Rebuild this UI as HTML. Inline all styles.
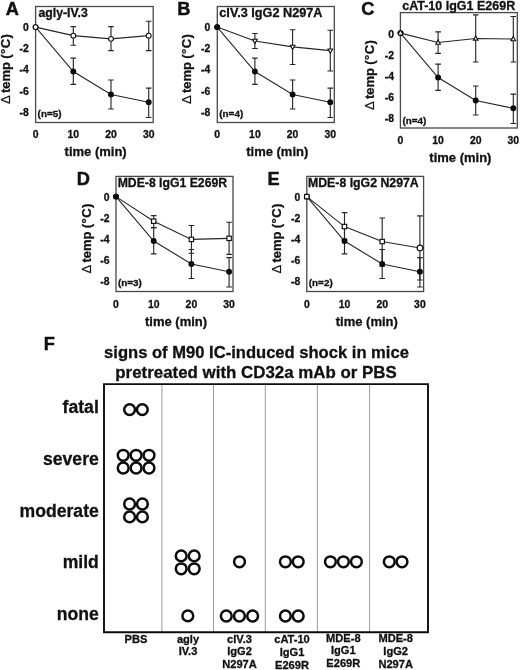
<!DOCTYPE html>
<html lang="en"><head><meta charset="utf-8"><title>Figure</title>
<style>
html,body{margin:0;padding:0;background:#fff;}
body{width:520px;height:670px;overflow:hidden;}
svg{display:block;}
text{font-family:"Liberation Sans", sans-serif;fill:#111;}
.b{font-weight:bold;stroke:#111;stroke-width:.3px;}
.L{stroke-width:.45px;}
.D{font-weight:normal;stroke-width:.2px;}
</style></head><body>
<svg width="520" height="670" viewBox="0 0 520 670">
<rect width="520" height="670" fill="#fff"/>
<g>
<text x="5.8" y="15.0" font-size="18.2" class="b L">A</text>
<rect x="35.6" y="6.5" width="117.6" height="116.0" fill="none" stroke="#484848" stroke-width="1.3"/>
<text x="38.5" y="16.6" font-size="12.3" class="b" text-anchor="start" textLength="49.3" lengthAdjust="spacingAndGlyphs">agly-IV.3</text>
<text x="37.6" y="117.2" font-size="9.9" class="b">(n=5)</text>
<text x="28.8" y="31.05" font-size="10.4" class="b" text-anchor="end">0</text>
<text x="28.8" y="52.25" font-size="10.4" class="b" text-anchor="end">-2</text>
<text x="28.8" y="73.45" font-size="10.4" class="b" text-anchor="end">-4</text>
<text x="28.8" y="94.65" font-size="10.4" class="b" text-anchor="end">-6</text>
<text x="28.8" y="115.85" font-size="10.4" class="b" text-anchor="end">-8</text>
<text x="35.60" y="138" font-size="10.4" class="b" text-anchor="middle">0</text>
<text x="73.30" y="138" font-size="10.4" class="b" text-anchor="middle">10</text>
<text x="111.00" y="138" font-size="10.4" class="b" text-anchor="middle">20</text>
<text x="148.70" y="138" font-size="10.4" class="b" text-anchor="middle">30</text>
<text x="95.65" y="155.5" font-size="13" class="b" text-anchor="middle">time (min)</text>
<text transform="translate(10.4,104.00) rotate(-90)" font-size="13" class="b"><tspan class="D" x="0">Δ</tspan><tspan x="11">temp</tspan><tspan x="45.3" letter-spacing="0.45">(°C)</tspan></text>
<path d="M73.30 58.13V84.34M70.50 58.13h5.6M70.50 84.34h5.6" stroke="#262626" stroke-width="1.12" fill="none"/>
<path d="M111.00 80.06V108.96M108.20 80.06h5.6M108.20 108.96h5.6" stroke="#262626" stroke-width="1.12" fill="none"/>
<path d="M148.70 88.09V117.51M145.90 88.09h5.6M145.90 117.51h5.6" stroke="#262626" stroke-width="1.12" fill="none"/>
<path d="M73.30 26.57V45.29M70.50 26.57h5.6M70.50 45.29h5.6" stroke="#262626" stroke-width="1.12" fill="none"/>
<path d="M111.00 26.57V50.64M108.20 26.57h5.6M108.20 50.64h5.6" stroke="#262626" stroke-width="1.12" fill="none"/>
<path d="M148.70 21.22V50.64M145.90 21.22h5.6M145.90 50.64h5.6" stroke="#262626" stroke-width="1.12" fill="none"/>
<path d="M35.60 27.10L73.30 71.50L111.00 94.51L148.70 102.32" stroke="#262626" stroke-width="1.1" fill="none"/>
<path d="M35.60 27.10L73.30 35.66L111.00 38.87L148.70 35.66" stroke="#262626" stroke-width="1.1" fill="none"/>
<circle cx="35.60" cy="27.10" r="2.95" fill="#0a0a0a"/>
<circle cx="73.30" cy="71.50" r="2.95" fill="#0a0a0a"/>
<circle cx="111.00" cy="94.51" r="2.95" fill="#0a0a0a"/>
<circle cx="148.70" cy="102.32" r="2.95" fill="#0a0a0a"/>
<circle cx="35.60" cy="27.10" r="2.4" fill="#fff" stroke="#111" stroke-width="1.1"/>
<circle cx="73.30" cy="35.66" r="2.4" fill="#fff" stroke="#111" stroke-width="1.1"/>
<circle cx="111.00" cy="38.87" r="2.4" fill="#fff" stroke="#111" stroke-width="1.1"/>
<circle cx="148.70" cy="35.66" r="2.4" fill="#fff" stroke="#111" stroke-width="1.1"/>
</g>
<g>
<text x="177.3" y="14.9" font-size="18.2" class="b L">B</text>
<rect x="217.3" y="6.5" width="117.0" height="116.0" fill="none" stroke="#484848" stroke-width="1.3"/>
<text x="219.3" y="16.6" font-size="12.3" class="b" text-anchor="start" textLength="103.2" lengthAdjust="spacingAndGlyphs">cIV.3 IgG2 N297A</text>
<text x="219.3" y="117.2" font-size="9.9" class="b">(n=4)</text>
<text x="210.3" y="31.05" font-size="10.4" class="b" text-anchor="end">0</text>
<text x="210.3" y="52.25" font-size="10.4" class="b" text-anchor="end">-2</text>
<text x="210.3" y="73.45" font-size="10.4" class="b" text-anchor="end">-4</text>
<text x="210.3" y="94.65" font-size="10.4" class="b" text-anchor="end">-6</text>
<text x="210.3" y="115.85" font-size="10.4" class="b" text-anchor="end">-8</text>
<text x="217.20" y="138" font-size="10.4" class="b" text-anchor="middle">0</text>
<text x="254.90" y="138" font-size="10.4" class="b" text-anchor="middle">10</text>
<text x="292.60" y="138" font-size="10.4" class="b" text-anchor="middle">20</text>
<text x="330.30" y="138" font-size="10.4" class="b" text-anchor="middle">30</text>
<text x="277.25" y="155.5" font-size="13" class="b" text-anchor="middle">time (min)</text>
<text transform="translate(190.6,104.00) rotate(-90)" font-size="13" class="b"><tspan class="D" x="0">Δ</tspan><tspan x="11">temp</tspan><tspan x="45.3" letter-spacing="0.45">(°C)</tspan></text>
<path d="M254.90 58.13V84.34M252.10 58.13h5.6M252.10 84.34h5.6" stroke="#262626" stroke-width="1.12" fill="none"/>
<path d="M292.60 80.06V108.96M289.80 80.06h5.6M289.80 108.96h5.6" stroke="#262626" stroke-width="1.12" fill="none"/>
<path d="M330.30 88.09V117.51M327.50 88.09h5.6M327.50 117.51h5.6" stroke="#262626" stroke-width="1.12" fill="none"/>
<path d="M254.90 33.52V48.50M252.10 33.52h5.6M252.10 48.50h5.6" stroke="#262626" stroke-width="1.12" fill="none"/>
<path d="M292.60 29.78V64.55M289.80 29.78h5.6M289.80 64.55h5.6" stroke="#262626" stroke-width="1.12" fill="none"/>
<path d="M330.30 30.31V70.97M327.50 30.31h5.6M327.50 70.97h5.6" stroke="#262626" stroke-width="1.12" fill="none"/>
<path d="M217.20 27.10L254.90 71.50L292.60 94.51L330.30 102.32" stroke="#262626" stroke-width="1.1" fill="none"/>
<path d="M217.20 27.10L254.90 41.01L292.60 46.89L330.30 50.64" stroke="#262626" stroke-width="1.1" fill="none"/>
<circle cx="217.20" cy="27.10" r="2.95" fill="#0a0a0a"/>
<circle cx="254.90" cy="71.50" r="2.95" fill="#0a0a0a"/>
<circle cx="292.60" cy="94.51" r="2.95" fill="#0a0a0a"/>
<circle cx="330.30" cy="102.32" r="2.95" fill="#0a0a0a"/>
<circle cx="217.20" cy="27.10" r="2.95" fill="#0a0a0a"/>
<path d="M254.90 43.51L257.20 39.31H252.60Z" fill="#fff" stroke="#111" stroke-width="1.1"/>
<path d="M292.60 49.39L294.90 45.19H290.30Z" fill="#fff" stroke="#111" stroke-width="1.1"/>
<path d="M330.30 53.14L332.60 48.94H328.00Z" fill="#fff" stroke="#111" stroke-width="1.1"/>
</g>
<g>
<text x="361.2" y="15.1" font-size="18.2" class="b L">C</text>
<rect x="400.4" y="12.6" width="116.89999999999998" height="115.4" fill="none" stroke="#484848" stroke-width="1.3"/>
<text x="402.2" y="9.7" font-size="12.3" class="b" text-anchor="start" textLength="113" lengthAdjust="spacingAndGlyphs">cAT-10 IgG1 E269R</text>
<text x="402.4" y="124.1" font-size="9.9" class="b">(n=4)</text>
<text x="394.0" y="37.55" font-size="10.4" class="b" text-anchor="end">0</text>
<text x="394.0" y="58.75" font-size="10.4" class="b" text-anchor="end">-2</text>
<text x="394.0" y="79.95" font-size="10.4" class="b" text-anchor="end">-4</text>
<text x="394.0" y="101.15" font-size="10.4" class="b" text-anchor="end">-6</text>
<text x="394.0" y="122.35" font-size="10.4" class="b" text-anchor="end">-8</text>
<text x="400.50" y="144.1" font-size="10.4" class="b" text-anchor="middle">0</text>
<text x="438.10" y="144.1" font-size="10.4" class="b" text-anchor="middle">10</text>
<text x="475.70" y="144.1" font-size="10.4" class="b" text-anchor="middle">20</text>
<text x="513.30" y="144.1" font-size="10.4" class="b" text-anchor="middle">30</text>
<text x="460.40" y="161.8" font-size="13" class="b" text-anchor="middle">time (min)</text>
<text transform="translate(373.5,110.00) rotate(-90)" font-size="13" class="b"><tspan class="D" x="0">Δ</tspan><tspan x="11">temp</tspan><tspan x="45.3" letter-spacing="0.45">(°C)</tspan></text>
<path d="M438.10 64.13V90.34M435.30 64.13h5.6M435.30 90.34h5.6" stroke="#262626" stroke-width="1.12" fill="none"/>
<path d="M475.70 86.06V114.96M472.90 86.06h5.6M472.90 114.96h5.6" stroke="#262626" stroke-width="1.12" fill="none"/>
<path d="M513.30 94.09V123.51M510.50 94.09h5.6M510.50 123.51h5.6" stroke="#262626" stroke-width="1.12" fill="none"/>
<path d="M438.10 31.82V53.43M435.30 31.82h5.6M435.30 53.43h5.6" stroke="#262626" stroke-width="1.12" fill="none"/>
<path d="M475.70 14.91V61.99M472.90 14.91h5.6M472.90 61.99h5.6" stroke="#262626" stroke-width="1.12" fill="none"/>
<path d="M513.30 16.52V61.99M510.50 16.52h5.6M510.50 61.99h5.6" stroke="#262626" stroke-width="1.12" fill="none"/>
<path d="M400.50 33.10L438.10 77.50L475.70 100.51L513.30 108.32" stroke="#262626" stroke-width="1.1" fill="none"/>
<path d="M400.50 33.10L438.10 42.52L475.70 38.45L513.30 38.98" stroke="#262626" stroke-width="1.1" fill="none"/>
<circle cx="400.50" cy="33.10" r="2.95" fill="#0a0a0a"/>
<circle cx="438.10" cy="77.50" r="2.95" fill="#0a0a0a"/>
<circle cx="475.70" cy="100.51" r="2.95" fill="#0a0a0a"/>
<circle cx="513.30" cy="108.32" r="2.95" fill="#0a0a0a"/>
<circle cx="400.50" cy="33.10" r="2.9" fill="#0a0a0a"/>
<path d="M400.50 31.10L402.40 34.60H398.60Z" fill="#fff"/>
<path d="M438.10 40.02L440.40 44.22H435.80Z" fill="#fff" stroke="#111" stroke-width="1.1"/>
<path d="M475.70 35.95L478.00 40.15H473.40Z" fill="#fff" stroke="#111" stroke-width="1.1"/>
<path d="M513.30 36.48L515.60 40.69H511.00Z" fill="#fff" stroke="#111" stroke-width="1.1"/>
</g>
<g>
<text x="76.65" y="184.7" font-size="18.2" class="b L">D</text>
<rect x="116" y="176.4" width="117.0" height="115.1" fill="none" stroke="#484848" stroke-width="1.3"/>
<text x="117.7" y="187" font-size="12.3" class="b" text-anchor="start" textLength="109.4" lengthAdjust="spacingAndGlyphs">MDE-8 IgG1 E269R</text>
<text x="118.0" y="286.4" font-size="9.9" class="b">(n=3)</text>
<text x="109.6" y="200.55" font-size="10.4" class="b" text-anchor="end">0</text>
<text x="109.6" y="221.75" font-size="10.4" class="b" text-anchor="end">-2</text>
<text x="109.6" y="242.95" font-size="10.4" class="b" text-anchor="end">-4</text>
<text x="109.6" y="264.15" font-size="10.4" class="b" text-anchor="end">-6</text>
<text x="109.6" y="285.35" font-size="10.4" class="b" text-anchor="end">-8</text>
<text x="116.00" y="308" font-size="10.4" class="b" text-anchor="middle">0</text>
<text x="153.70" y="308" font-size="10.4" class="b" text-anchor="middle">10</text>
<text x="191.40" y="308" font-size="10.4" class="b" text-anchor="middle">20</text>
<text x="229.10" y="308" font-size="10.4" class="b" text-anchor="middle">30</text>
<text x="176.05" y="325.5" font-size="13" class="b" text-anchor="middle">time (min)</text>
<text transform="translate(90.5,273.50) rotate(-90)" font-size="13" class="b"><tspan class="D" x="0">Δ</tspan><tspan x="11">temp</tspan><tspan x="45.3" letter-spacing="0.45">(°C)</tspan></text>
<path d="M153.70 227.63V253.84M150.90 227.63h5.6M150.90 253.84h5.6" stroke="#262626" stroke-width="1.12" fill="none"/>
<path d="M191.40 249.56V278.45M188.60 249.56h5.6M188.60 278.45h5.6" stroke="#262626" stroke-width="1.12" fill="none"/>
<path d="M229.10 257.59V287.01M226.30 257.59h5.6M226.30 287.01h5.6" stroke="#262626" stroke-width="1.12" fill="none"/>
<path d="M153.70 215.65V227.63M150.90 215.65h5.6M150.90 227.63h5.6" stroke="#262626" stroke-width="1.12" fill="none"/>
<path d="M191.40 225.49V253.31M188.60 225.49h5.6M188.60 253.31h5.6" stroke="#262626" stroke-width="1.12" fill="none"/>
<path d="M229.10 222.28V254.38M226.30 222.28h5.6M226.30 254.38h5.6" stroke="#262626" stroke-width="1.12" fill="none"/>
<path d="M116.00 196.60L153.70 241.00L191.40 264.01L229.10 271.82" stroke="#262626" stroke-width="1.1" fill="none"/>
<path d="M116.00 196.60L153.70 221.21L191.40 239.40L229.10 238.33" stroke="#262626" stroke-width="1.1" fill="none"/>
<circle cx="116.00" cy="196.60" r="2.95" fill="#0a0a0a"/>
<circle cx="153.70" cy="241.00" r="2.95" fill="#0a0a0a"/>
<circle cx="191.40" cy="264.01" r="2.95" fill="#0a0a0a"/>
<circle cx="229.10" cy="271.82" r="2.95" fill="#0a0a0a"/>
<circle cx="116.00" cy="196.60" r="2.95" fill="#0a0a0a"/>
<rect x="151.50" y="219.01" width="4.4" height="4.4" fill="#fff" stroke="#111" stroke-width="1.15"/>
<rect x="189.20" y="237.20" width="4.4" height="4.4" fill="#fff" stroke="#111" stroke-width="1.15"/>
<rect x="226.90" y="236.13" width="4.4" height="4.4" fill="#fff" stroke="#111" stroke-width="1.15"/>
</g>
<g>
<text x="267.5" y="184.8" font-size="18.2" class="b L">E</text>
<rect x="306.8" y="176.4" width="116.80000000000001" height="115.1" fill="none" stroke="#484848" stroke-width="1.3"/>
<text x="308" y="187" font-size="12.3" class="b" text-anchor="start" textLength="110.7" lengthAdjust="spacingAndGlyphs">MDE-8 IgG2 N297A</text>
<text x="308.8" y="286.4" font-size="9.9" class="b">(n=2)</text>
<text x="300.2" y="200.55" font-size="10.4" class="b" text-anchor="end">0</text>
<text x="300.2" y="221.75" font-size="10.4" class="b" text-anchor="end">-2</text>
<text x="300.2" y="242.95" font-size="10.4" class="b" text-anchor="end">-4</text>
<text x="300.2" y="264.15" font-size="10.4" class="b" text-anchor="end">-6</text>
<text x="300.2" y="285.35" font-size="10.4" class="b" text-anchor="end">-8</text>
<text x="306.80" y="308" font-size="10.4" class="b" text-anchor="middle">0</text>
<text x="344.50" y="308" font-size="10.4" class="b" text-anchor="middle">10</text>
<text x="382.20" y="308" font-size="10.4" class="b" text-anchor="middle">20</text>
<text x="419.90" y="308" font-size="10.4" class="b" text-anchor="middle">30</text>
<text x="366.85" y="325.5" font-size="13" class="b" text-anchor="middle">time (min)</text>
<text transform="translate(281.1,273.50) rotate(-90)" font-size="13" class="b"><tspan class="D" x="0">Δ</tspan><tspan x="11">temp</tspan><tspan x="45.3" letter-spacing="0.45">(°C)</tspan></text>
<path d="M344.50 227.63V253.84M341.70 227.63h5.6M341.70 253.84h5.6" stroke="#262626" stroke-width="1.12" fill="none"/>
<path d="M382.20 249.56V278.45M379.40 249.56h5.6M379.40 278.45h5.6" stroke="#262626" stroke-width="1.12" fill="none"/>
<path d="M419.90 257.59V287.01M417.10 257.59h5.6M417.10 287.01h5.6" stroke="#262626" stroke-width="1.12" fill="none"/>
<path d="M344.50 212.65V239.40M341.70 212.65h5.6M341.70 239.40h5.6" stroke="#262626" stroke-width="1.12" fill="none"/>
<path d="M382.20 218.00V266.15M379.40 218.00h5.6M379.40 266.15h5.6" stroke="#262626" stroke-width="1.12" fill="none"/>
<path d="M419.90 215.86V280.06M417.10 215.86h5.6M417.10 280.06h5.6" stroke="#262626" stroke-width="1.12" fill="none"/>
<path d="M306.80 196.60L344.50 241.00L382.20 264.01L419.90 271.82" stroke="#262626" stroke-width="1.1" fill="none"/>
<path d="M306.80 196.60L344.50 226.56L382.20 241.54L419.90 247.96" stroke="#262626" stroke-width="1.1" fill="none"/>
<circle cx="306.80" cy="196.60" r="2.95" fill="#0a0a0a"/>
<circle cx="344.50" cy="241.00" r="2.95" fill="#0a0a0a"/>
<circle cx="382.20" cy="264.01" r="2.95" fill="#0a0a0a"/>
<circle cx="419.90" cy="271.82" r="2.95" fill="#0a0a0a"/>
<rect x="304.60" y="194.40" width="4.4" height="4.4" fill="#fff" stroke="#111" stroke-width="1.15"/>
<rect x="342.30" y="224.36" width="4.4" height="4.4" fill="#fff" stroke="#111" stroke-width="1.15"/>
<rect x="380.00" y="239.34" width="4.4" height="4.4" fill="#fff" stroke="#111" stroke-width="1.15"/>
<circle cx="419.90" cy="247.96" r="2.8" fill="#fff" stroke="#111" stroke-width="1.1"/>
</g>
<g>
<text x="43.8" y="349.9" font-size="18.2" class="b L">F</text>
<text x="104.1" y="358.4" font-size="16.7" class="b" textLength="304.8" lengthAdjust="spacingAndGlyphs">signs of M90 IC-induced shock in mice</text>
<text x="115.3" y="377.6" font-size="16.7" class="b" textLength="281.5" lengthAdjust="spacingAndGlyphs">pretreated with CD32a mAb or PBS</text>
<line x1="161.9" y1="384.1" x2="161.9" y2="632.2" stroke="#9a9a9a" stroke-width="1"/>
<line x1="213.5" y1="384.1" x2="213.5" y2="632.2" stroke="#9a9a9a" stroke-width="1"/>
<line x1="265.3" y1="384.1" x2="265.3" y2="632.2" stroke="#9a9a9a" stroke-width="1"/>
<line x1="317.4" y1="384.1" x2="317.4" y2="632.2" stroke="#9a9a9a" stroke-width="1"/>
<line x1="369.6" y1="384.1" x2="369.6" y2="632.2" stroke="#9a9a9a" stroke-width="1"/>
<path d="M104 384.1H428V632.2H104Z" fill="none" stroke="#0c0c0c" stroke-width="1.9"/>
<text x="98.8" y="413.3" font-size="17.6" class="b" text-anchor="end">fatal</text>
<text x="98.8" y="464.6" font-size="17.6" class="b" text-anchor="end">severe</text>
<text x="98.8" y="516.7" font-size="17.6" class="b" text-anchor="end">moderate</text>
<text x="98.8" y="568.0" font-size="17.6" class="b" text-anchor="end">mild</text>
<text x="98.8" y="619.9" font-size="17.6" class="b" text-anchor="end">none</text>
<circle cx="129.6" cy="409.6" r="5.4" fill="#fff" stroke="#0c0c0c" stroke-width="2.5"/>
<circle cx="142.3" cy="409.6" r="5.4" fill="#fff" stroke="#0c0c0c" stroke-width="2.5"/>
<circle cx="123.2" cy="455.3" r="5.4" fill="#fff" stroke="#0c0c0c" stroke-width="2.5"/>
<circle cx="136.1" cy="455.3" r="5.4" fill="#fff" stroke="#0c0c0c" stroke-width="2.5"/>
<circle cx="149.0" cy="455.3" r="5.4" fill="#fff" stroke="#0c0c0c" stroke-width="2.5"/>
<circle cx="123.2" cy="468.0" r="5.4" fill="#fff" stroke="#0c0c0c" stroke-width="2.5"/>
<circle cx="136.1" cy="468.0" r="5.4" fill="#fff" stroke="#0c0c0c" stroke-width="2.5"/>
<circle cx="149.0" cy="468.0" r="5.4" fill="#fff" stroke="#0c0c0c" stroke-width="2.5"/>
<circle cx="129.6" cy="504.0" r="5.4" fill="#fff" stroke="#0c0c0c" stroke-width="2.5"/>
<circle cx="142.4" cy="504.0" r="5.4" fill="#fff" stroke="#0c0c0c" stroke-width="2.5"/>
<circle cx="129.6" cy="516.9" r="5.4" fill="#fff" stroke="#0c0c0c" stroke-width="2.5"/>
<circle cx="142.4" cy="516.9" r="5.4" fill="#fff" stroke="#0c0c0c" stroke-width="2.5"/>
<circle cx="181.2" cy="555.9" r="5.4" fill="#fff" stroke="#0c0c0c" stroke-width="2.5"/>
<circle cx="194.2" cy="555.9" r="5.4" fill="#fff" stroke="#0c0c0c" stroke-width="2.5"/>
<circle cx="181.2" cy="568.8" r="5.4" fill="#fff" stroke="#0c0c0c" stroke-width="2.5"/>
<circle cx="194.2" cy="568.8" r="5.4" fill="#fff" stroke="#0c0c0c" stroke-width="2.5"/>
<circle cx="187.8" cy="615.9" r="5.4" fill="#fff" stroke="#0c0c0c" stroke-width="2.5"/>
<circle cx="239.5" cy="561.8" r="5.4" fill="#fff" stroke="#0c0c0c" stroke-width="2.5"/>
<circle cx="226.3" cy="616.0" r="5.4" fill="#fff" stroke="#0c0c0c" stroke-width="2.5"/>
<circle cx="239.4" cy="616.0" r="5.4" fill="#fff" stroke="#0c0c0c" stroke-width="2.5"/>
<circle cx="252.6" cy="616.0" r="5.4" fill="#fff" stroke="#0c0c0c" stroke-width="2.5"/>
<circle cx="285.4" cy="561.8" r="5.4" fill="#fff" stroke="#0c0c0c" stroke-width="2.5"/>
<circle cx="285.4" cy="616.0" r="5.4" fill="#fff" stroke="#0c0c0c" stroke-width="2.5"/>
<circle cx="298.2" cy="561.8" r="5.4" fill="#fff" stroke="#0c0c0c" stroke-width="2.5"/>
<circle cx="298.2" cy="616.0" r="5.4" fill="#fff" stroke="#0c0c0c" stroke-width="2.5"/>
<circle cx="330.4" cy="561.8" r="5.4" fill="#fff" stroke="#0c0c0c" stroke-width="2.5"/>
<circle cx="343.4" cy="561.8" r="5.4" fill="#fff" stroke="#0c0c0c" stroke-width="2.5"/>
<circle cx="356.4" cy="561.8" r="5.4" fill="#fff" stroke="#0c0c0c" stroke-width="2.5"/>
<circle cx="389.3" cy="561.8" r="5.4" fill="#fff" stroke="#0c0c0c" stroke-width="2.5"/>
<circle cx="402.0" cy="561.8" r="5.4" fill="#fff" stroke="#0c0c0c" stroke-width="2.5"/>
<text x="136" y="642.50" font-size="11.1" class="b" text-anchor="middle">PBS</text>
<text x="188" y="642.50" font-size="11.1" class="b" text-anchor="middle">agly</text>
<text x="188" y="655.00" font-size="11.1" class="b" text-anchor="middle">IV.3</text>
<text x="239.5" y="642.50" font-size="11.1" class="b" text-anchor="middle">cIV.3</text>
<text x="239.5" y="655.40" font-size="11.1" class="b" text-anchor="middle">IgG2</text>
<text x="239.5" y="668.30" font-size="11.1" class="b" text-anchor="middle">N297A</text>
<text x="292" y="642.70" font-size="11.1" class="b" text-anchor="middle">cAT-10</text>
<text x="292" y="655.70" font-size="11.1" class="b" text-anchor="middle">IgG1</text>
<text x="292" y="668.70" font-size="11.1" class="b" text-anchor="middle">E269R</text>
<text x="343.3" y="641.60" font-size="11.1" class="b" text-anchor="middle">MDE-8</text>
<text x="343.3" y="654.10" font-size="11.1" class="b" text-anchor="middle">IgG1</text>
<text x="343.3" y="666.60" font-size="11.1" class="b" text-anchor="middle">E269R</text>
<text x="395.7" y="642.40" font-size="11.1" class="b" text-anchor="middle">MDE-8</text>
<text x="395.7" y="655.40" font-size="11.1" class="b" text-anchor="middle">IgG2</text>
<text x="395.7" y="668.40" font-size="11.1" class="b" text-anchor="middle">N297A</text>
</g>
</svg></body></html>
